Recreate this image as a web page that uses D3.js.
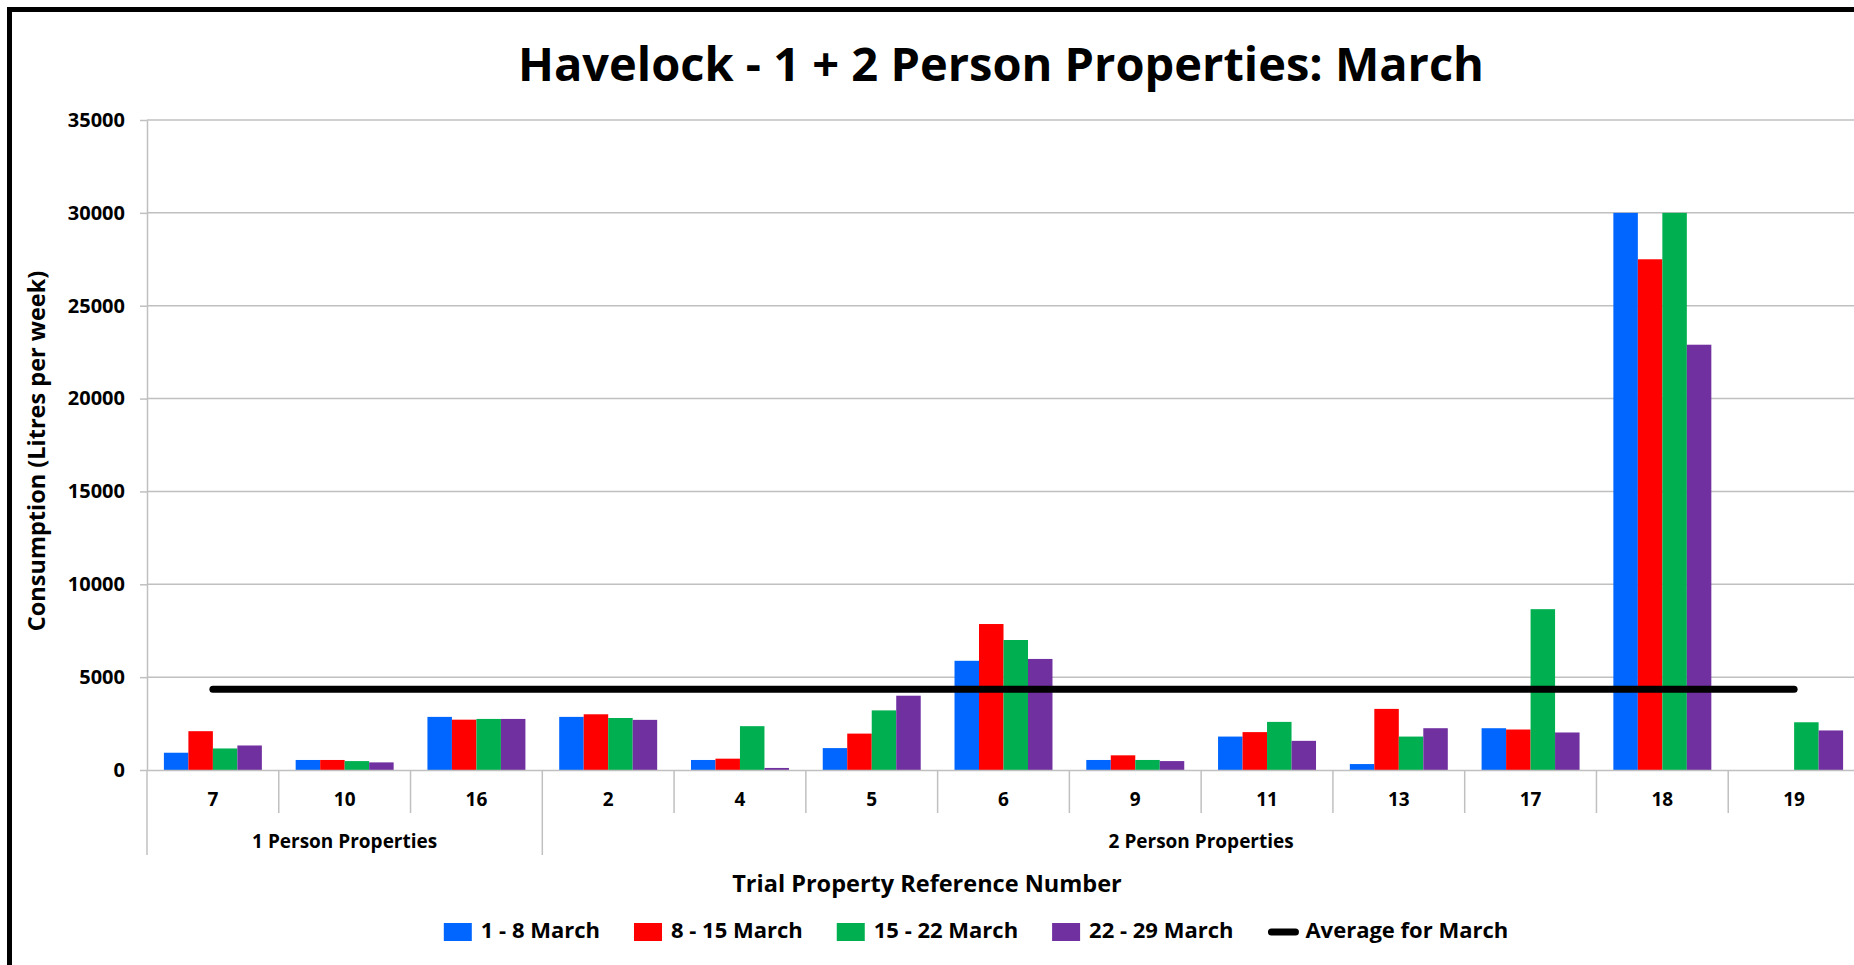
<!DOCTYPE html>
<html>
<head>
<meta charset="utf-8">
<script src="https://cdn.jsdelivr.net/npm/d3@7"></script>
<style>
  body { margin: 0; background: #fff; }
  text { font-family: "Open Sans", sans-serif; font-weight: bold; fill: #000; }
</style>
</head>
<body>
<div id="bar-chart"></div>
<script>
// chart values
const categories = ["7", "10", "16", "2", "4", "5", "6", "9", "11", "13", "17", "18", "19"];
const groupNames = ["1 Person Properties", "2 Person Properties"];
const groupSizes = [3, 10];
const seriesNames = ["1 - 8 March", "8 - 15 March", "15 - 22 March", "22 - 29 March"];
const week1 = [930, 540, 2860, 2860, 540, 1180, 5880, 540, 1800, 320, 2250, 30000, 0];
const week2 = [2090, 540, 2710, 3000, 610, 1960, 7860, 790, 2040, 3290, 2180, 27500, 0];
const week3 = [1160, 480, 2750, 2800, 2360, 3210, 7000, 540, 2590, 1800, 8660, 30000, 2570];
const week4 = [1320, 410, 2750, 2700, 110, 4000, 5980, 480, 1570, 2250, 2020, 22900, 2130];
const averageName = "Average for March";
const averageValue = 4350;
const yTicks = [0, 5000, 10000, 15000, 20000, 25000, 30000, 35000];

const colors = ["#0066ff", "#ff0000", "#00b050", "#7030a0"];

function renderBarChart() {
    const W = 1854, H = 965;
    const left = 147, right = 1860, top = 120, bottom = 770;

    const svg = d3.select("#bar-chart").append("svg")
        .attr("width", W)
        .attr("height", H)
        .style("display", "block");

    svg.append("rect").attr("width", W).attr("height", H).attr("fill", "#fff");

    // frame (cut off on the right and bottom in the original)
    svg.append("rect")
        .attr("x", 9.5).attr("y", 9.5)
        .attr("width", W + 20).attr("height", H + 20)
        .attr("fill", "none").attr("stroke", "#000").attr("stroke-width", 5);

    const x = d3.scaleBand().domain(categories).range([left, right]).padding(0);
    const x1 = d3.scaleBand().domain(seriesNames).range([0, x.bandwidth()])
        .paddingInner(0).paddingOuter(0.69);
    const y = d3.scaleLinear().domain([0, 35000]).range([bottom, top]);

    // gridlines
    svg.append("g").selectAll("line")
        .data(yTicks.filter(d => d > 0))
        .enter().append("line")
        .attr("x1", left).attr("x2", right)
        .attr("y1", d => y(d)).attr("y2", d => y(d))
        .attr("stroke", "#c0c0c0").attr("stroke-width", 1.5);

    // bars
    const series = [week1, week2, week3, week4];
    const barData = [];
    categories.forEach((c, i) => {
        seriesNames.forEach((s, j) => {
            barData.push({cat: c, name: s, value: series[j][i], color: colors[j]});
        });
    });
    svg.append("g").selectAll(".bar")
        .data(barData.filter(d => d.value > 0))
        .enter().append("rect")
        .attr("class", "bar")
        .attr("x", d => x(d.cat) + x1(d.name))
        .attr("y", d => y(d.value))
        .attr("width", x1.bandwidth())
        .attr("height", d => y(0) - y(d.value))
        .attr("fill", d => d.color);

    // y axis, plain integers
    const yAxis = svg.append("g")
        .attr("transform", `translate(${left},0)`)
        .call(d3.axisLeft(y).tickValues(yTicks).tickFormat(d3.format("d"))
            .tickSize(7).tickSizeOuter(0).tickPadding(15));
    yAxis.selectAll("path, line").attr("stroke", "#c0c0c0").attr("stroke-width", 1.5);
    yAxis.selectAll("text").style("font-size", "20px").style("font-family", "Open Sans").style("font-weight", "bold");

    // x axis (category labels)
    const xAxis = svg.append("g")
        .attr("transform", `translate(0,${bottom})`)
        .call(d3.axisBottom(x).tickSize(0).tickSizeOuter(0).tickPadding(23));
    xAxis.select("path").attr("stroke", "#c0c0c0").attr("stroke-width", 1.5);
    xAxis.selectAll("text").style("font-size", "19px").style("font-family", "Open Sans").style("font-weight", "bold");

    // dividers between categories, longer ones between groups
    const groupStarts = [0];
    groupSizes.forEach((n, i) => groupStarts.push(groupStarts[i] + n));
    const edges = categories.map(c => x(c)).concat([right]);
    svg.append("g").selectAll("line")
        .data(edges)
        .enter().append("line")
        .attr("x1", d => d).attr("x2", d => d)
        .attr("y1", bottom)
        .attr("y2", (d, i) => groupStarts.includes(i) ? bottom + 85 : bottom + 43)
        .attr("stroke", "#c0c0c0").attr("stroke-width", 1.5);

    // group labels
    svg.append("g").selectAll("text")
        .data(groupNames)
        .enter().append("text")
        .attr("x", (d, i) => (edges[groupStarts[i]] + edges[groupStarts[i + 1]]) / 2)
        .attr("y", bottom + 73)
        .attr("dominant-baseline", "middle")
        .attr("text-anchor", "middle")
        .style("font-size", "19px")
        .text(d => d);

    // average line
    const cx0 = x(categories[0]) + x.bandwidth() / 2;
    const cx1 = x(categories[categories.length - 1]) + x.bandwidth() / 2;
    svg.append("line")
        .attr("x1", cx0).attr("x2", cx1)
        .attr("y1", y(averageValue)).attr("y2", y(averageValue))
        .attr("stroke", "#000").attr("stroke-width", 7).attr("stroke-linecap", "round");

    // titles
    svg.append("text")
        .attr("x", 1001).attr("y", 68)
        .attr("text-anchor", "middle").attr("dominant-baseline", "middle")
        .style("font-size", "47px")
        .text("Havelock - 1 + 2 Person Properties: March");

    svg.append("text")
        .attr("transform", "translate(39,451) rotate(-90)")
        .attr("text-anchor", "middle").attr("dominant-baseline", "middle")
        .style("font-size", "23.5px")
        .text("Consumption (Litres per week)");

    svg.append("text")
        .attr("x", 927).attr("y", 886)
        .attr("text-anchor", "middle").attr("dominant-baseline", "middle")
        .style("font-size", "23.5px")
        .text("Trial Property Reference Number");

    // legend
    const legend = svg.append("g");
    const legendY = 932;
    let lx = 0;
    const items = seriesNames.map((s, i) => ({name: s, color: colors[i], line: false}))
        .concat([{name: averageName, color: "#000", line: true}]);
    items.forEach((d, i) => {
        const g = legend.append("g").attr("transform", `translate(${lx},0)`);
        if (d.line) {
            g.append("line")
                .attr("x1", 4).attr("x2", 28)
                .attr("y1", legendY).attr("y2", legendY)
                .attr("stroke", "#000").attr("stroke-width", 7).attr("stroke-linecap", "round");
        } else {
            g.append("rect")
                .attr("x", 0).attr("y", legendY - 9)
                .attr("width", 28).attr("height", 18)
                .attr("fill", d.color);
        }
        const t = g.append("text")
            .attr("x", d.line ? 38 : 37).attr("y", legendY)
            .attr("dominant-baseline", "middle")
            .style("font-size", "22px")
            .text(d.name);
        lx += (d.line ? 38 : 37) + t.node().getComputedTextLength() + 34;
    });
    const lw = lx - 34;
    legend.attr("transform", `translate(${976 - lw / 2},0)`);
}

renderBarChart();
</script>
</body>
</html>
